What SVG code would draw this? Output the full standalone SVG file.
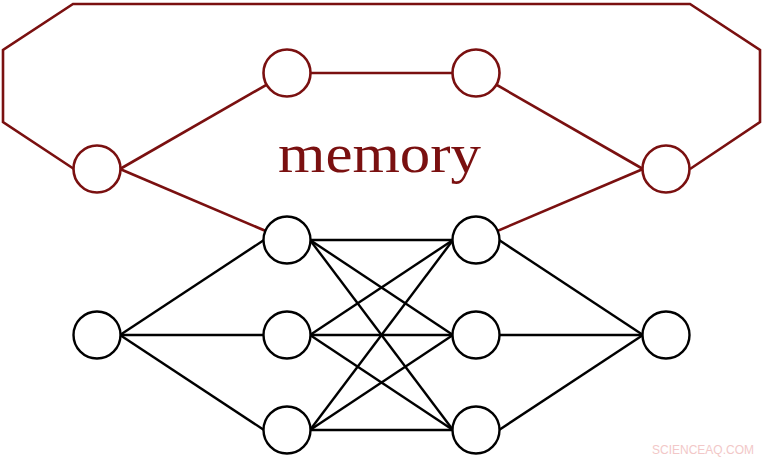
<svg xmlns="http://www.w3.org/2000/svg" width="763" height="458" viewBox="0 0 763 458">
<style>
.k{stroke:#000;stroke-width:2.4;fill:none}
.r{stroke:#7a1010;stroke-width:2.6;fill:none}
.nk{fill:#fff;stroke:#000;stroke-width:2.4}
.nr{fill:#fff;stroke:#7a1010;stroke-width:2.6}
</style>
<rect width="763" height="458" fill="#fff"/>
<g id="connectors">
<polyline class="r" points="74,169 3,122 3,50 73,4 690,4 760,50 760,122 690,169"/>
<line class="r" x1="120" y1="169" x2="287" y2="73"/>
<line class="r" x1="287" y1="73" x2="476" y2="73" stroke-width="4"/>
<line class="r" x1="476" y1="73" x2="643" y2="169"/>
<line class="r" x1="120" y1="169" x2="287" y2="240"/>
<line class="r" x1="476" y1="240" x2="643" y2="169"/>
<g class="k">
<line x1="120" y1="335" x2="264" y2="240"/><line x1="120" y1="335" x2="264" y2="335"/><line x1="120" y1="335" x2="264" y2="430"/>
<line x1="310" y1="240" x2="453" y2="240"/><line x1="310" y1="240" x2="453" y2="335"/><line x1="310" y1="240" x2="453" y2="430"/>
<line x1="310" y1="335" x2="453" y2="240"/><line x1="310" y1="335" x2="453" y2="335"/><line x1="310" y1="335" x2="453" y2="430"/>
<line x1="310" y1="430" x2="453" y2="240"/><line x1="310" y1="430" x2="453" y2="335"/><line x1="310" y1="430" x2="453" y2="430"/>
<line x1="499" y1="240" x2="643" y2="335"/><line x1="499" y1="335" x2="643" y2="335"/><line x1="499" y1="430" x2="643" y2="335"/>
</g>
</g>
<g id="m1"><circle class="nr" cx="97" cy="169" r="23.5"/></g>
<g id="m2"><circle class="nr" cx="287" cy="73" r="23.5"/></g>
<g id="m3"><circle class="nr" cx="476" cy="73" r="23.5"/></g>
<g id="m4"><circle class="nr" cx="666" cy="169" r="23.5"/></g>
<g id="in"><circle class="nk" cx="97" cy="335" r="23.5"/></g>
<g id="h1a"><circle class="nk" cx="287" cy="240" r="23.5"/></g>
<g id="h1b"><circle class="nk" cx="287" cy="335" r="23.5"/></g>
<g id="h1c"><circle class="nk" cx="287" cy="430" r="23.5"/></g>
<g id="h2a"><circle class="nk" cx="476" cy="240" r="23.5"/></g>
<g id="h2b"><circle class="nk" cx="476" cy="335" r="23.5"/></g>
<g id="h2c"><circle class="nk" cx="476" cy="430" r="23.5"/></g>
<g id="out"><circle class="nk" cx="666" cy="335" r="23.5"/></g>
<text x="278" y="172" textLength="203" lengthAdjust="spacingAndGlyphs" font-family="Liberation Serif, serif" font-size="54" fill="#7a1010">memory</text>
<text x="703" y="454" text-anchor="middle" font-family="Liberation Sans, sans-serif" font-size="12" fill="#f2c8c8">SCIENCEAQ.COM</text>
</svg>
